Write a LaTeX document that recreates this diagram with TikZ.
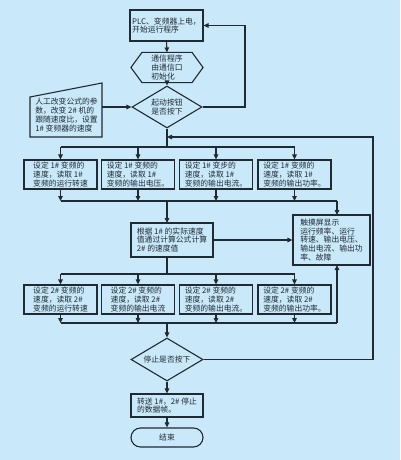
\documentclass[tikz,border=0pt]{standalone}
\usepackage{fontspec}
\setmainfont{Noto Sans CJK SC}
\usetikzlibrary{arrows.meta,shapes.geometric,shapes.misc}
\definecolor{bg}{HTML}{C9E9FA}
\definecolor{ink}{HTML}{1F2A33}
\begin{document}
\begin{tikzpicture}[x=1pt,y=-1pt,line width=1.1pt,
  every node/.style={font=\fontsize{7.8}{8.8}\selectfont, text=ink, inner sep=0pt},
  box/.style={draw=ink, fill=bg, rectangle, minimum width=73pt, minimum height=29pt, align=left},
  plain/.style={align=left},
  dia/.style={draw=ink, fill=bg, diamond, aspect=1.67, align=center},
  arr/.style={draw=ink, -{Triangle[length=5pt,width=4.5pt]}},
  ln/.style={draw=ink}]
\fill[bg] (0,0) rectangle (400,460);
\useasboundingbox (0,0) rectangle (400,460);

% start
\node[box, minimum width=73pt, minimum height=31pt] (start) at (166.5,25.5) {PLC、变频器上电，\\开始运行程序};
% hexagon
\node[plain, minimum width=71pt, minimum height=29pt] (hex) at (167,67.5) {通信程序\\由通信口\\初始化};
\draw[ink] (hex.west) -- ([xshift=11pt]hex.north west) -- ([xshift=-11pt]hex.north east) -- (hex.east) -- ([xshift=-11pt]hex.south east) -- ([xshift=11pt]hex.south west) -- cycle;
% start diamond
\node[dia, minimum width=70pt, minimum height=42pt] (d1) at (167,107) {起动按钮\\是否按下};
% manual input
\draw[ink, fill=bg] (30,97) -- (102,83) -- (102,137) -- (30,137) -- cycle;
\node[plain, font=\fontsize{7.8}{9.2}\selectfont] (man) at (66.5,115) {人工改变公式的参\\数，改变 2\# 机的\\跟随速度比，设置\\1\# 变频器的速度};
\coordinate (manR) at (102,107);

% row 1
\node[box] (a1) at (60.5,174.5) {设定 1\# 变频的\\速度，读取 1\#\\变频的运行转速};
\node[box] (a2) at (138,174.5) {设定 1\# 变频的\\速度，读取 1\#\\变频的输出电压。};
\node[box] (a3) at (216,174.5) {设定 1\# 变步的\\速度，读取 1\#\\变频的输出电流。};
\node[box] (a4) at (294.5,174.5) {设定 1\# 变频的\\速度，读取 1\#\\变频的输出功率。};

% calc & touch
\node[box, minimum width=82pt, minimum height=34pt] (calc) at (172,240) {根据 1\# 的实际速度\\值通过计算公式计算\\2\# 的速度值};
\node[box, minimum width=77pt, minimum height=50pt] (touch) at (331.5,240) {触摸屏显示\\运行频率、运行\\转速、输出电压、\\输出电流、输出功\\率、故障};

% row 2
\node[box] (b1) at (60.5,299.5) {设定 2\# 变频的\\速度，读取 2\#\\变频的运行转速};
\node[box] (b2) at (138,299.5) {设定 2\# 变频的\\速度，读取 2\#\\变频的输出电流};
\node[box] (b3) at (216,299.5) {设定 2\# 变频的\\速度，读取 2\#\\变频的输出电流。};
\node[box] (b4) at (294.5,299.5) {设定 2\# 变频的\\速度，读取 2\#\\变频的输出功率。};

% stop diamond, transfer, end
\node[dia, minimum width=72pt, minimum height=43pt] (d2) at (167,359.5) {停止是否按下};
\node[box, minimum width=72pt, minimum height=23pt] (xfer) at (167,405.5) {转送 1\#，2\# 停止\\的数据帧。};
\node[draw=ink, fill=bg, rounded rectangle, minimum width=72pt, minimum height=19pt] (fin) at (167,437.5) {结束};

% coordinates
\coordinate (r1) at (245,107);
\coordinate (r2) at (245,25.5);
\coordinate (s1) at (167,147);
\coordinate (ret) at (167,137);
\coordinate (loopTop) at (373,137);
\coordinate (loopBot) at (373,359.5);
\coordinate (h1L) at (60.5,147);
\coordinate (h1R) at (294.5,147);
\coordinate (c1L) at (60.5,201);
\coordinate (c1R) at (337,201);
\coordinate (c1M) at (167,201);
\coordinate (calcTop) at (167,223);
\coordinate (calcBot) at (167,257);
\coordinate (h2M) at (167,274);
\coordinate (h2L) at (60.5,274);
\coordinate (h2R) at (294.5,274);
\coordinate (c2L) at (60.5,323);
\coordinate (c2R) at (337,323);
\coordinate (c2M) at (167,323);
\coordinate (tTop) at (337,215);
\coordinate (tBot) at (337,265);

% connectors
\draw[arr] (start.south) -- (hex.north);
\draw[arr] (hex.south) -- (d1.north);
\draw[arr] (manR) -- (d1.west);
\draw[arr] (d1.east) -- (r1) -- (r2) -- (start.east);
\draw[ln] (d1.south) -- (s1);
\draw[ln] (h1L) -- (h1R);
\foreach \n in {a1,a2,a3,a4} \draw[arr] (\n.north |- h1L) -- (\n.north);
\draw[arr] (loopBot) -- (loopTop) -- (ret);
\draw[ln] (d2.east) -- (loopBot);
\foreach \n in {a1,a2,a3,a4} \draw[arr] (\n.south) -- (\n.south |- c1L);
\draw[ln] (c1L) -- (c1R);
\draw[arr] (c1R) -- (tTop);
\draw[arr] (c1M) -- (calcTop);
\draw[arr] (calc.east) -- (touch.west);
\draw[ln] (calcBot) -- (h2M);
\draw[ln] (h2L) -- (h2R);
\foreach \n in {b1,b2,b3,b4} \draw[arr] (\n.north |- h2L) -- (\n.north);
\foreach \n in {b1,b2,b3,b4} \draw[arr] (\n.south) -- (\n.south |- c2L);
\draw[ln] (c2L) -- (c2R);
\draw[arr] (c2R) -- (tBot);
\draw[arr] (c2M) -- (d2.north);
\draw[arr] (d2.south) -- (xfer.north);
\draw[arr] (xfer.south) -- (fin.north);
\end{tikzpicture}
\end{document}
